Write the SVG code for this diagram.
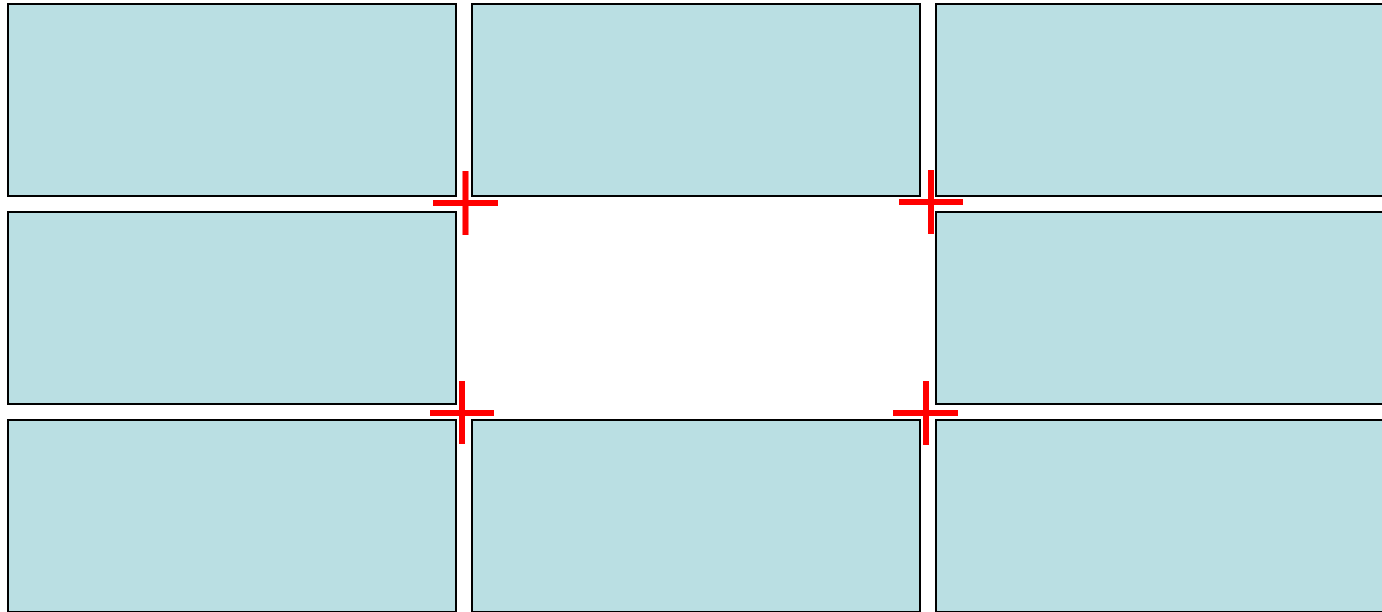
<svg xmlns="http://www.w3.org/2000/svg" width="1382" height="612" viewBox="0 0 1382 612">
<style>
.cell{fill:#badfe3;stroke:#000;stroke-width:2}
.mark{stroke:#ff0000;stroke-width:6;fill:none}
</style>
<rect width="1382" height="612" fill="#fff"/>
<g id="cell-r1c1"><rect class="cell" x="8" y="4" width="448" height="192"/></g>
<g id="cell-r1c2"><rect class="cell" x="472" y="4" width="448" height="192"/></g>
<g id="cell-r1c3"><rect class="cell" x="936" y="4" width="448" height="192"/></g>
<g id="cell-r2c1"><rect class="cell" x="8" y="212" width="448" height="192"/></g>
<g id="cell-r2c3"><rect class="cell" x="936" y="212" width="448" height="192"/></g>
<g id="cell-r3c1"><rect class="cell" x="8" y="420" width="448" height="192"/></g>
<g id="cell-r3c2"><rect class="cell" x="472" y="420" width="448" height="192"/></g>
<g id="cell-r3c3"><rect class="cell" x="936" y="420" width="448" height="192"/></g>
<g id="marks">
<path class="mark" d="M433 203H498M465.5 171V235"/>
<path class="mark" d="M899 202H963M931 170V234"/>
<path class="mark" d="M430 413H494M462 381V444"/>
<path class="mark" d="M893 413H958M926 381V445"/>
</g>
</svg>
